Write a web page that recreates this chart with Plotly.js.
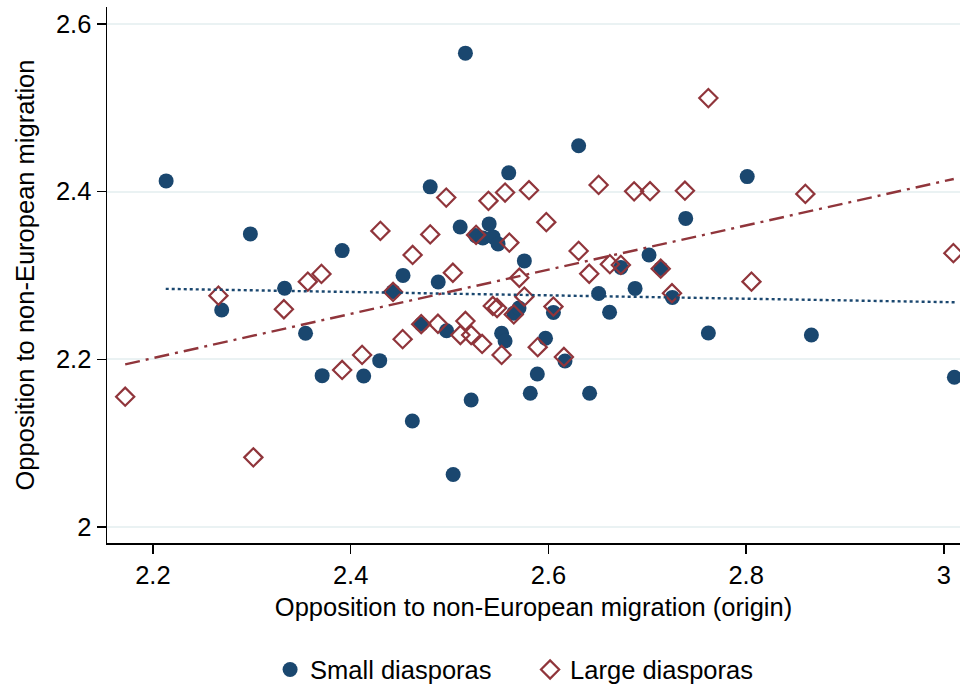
<!DOCTYPE html>
<html>
<head>
<meta charset="utf-8">
<script src="https://cdn.plot.ly/plotly-3.0.1.min.js"></script>
<style>html,body{margin:0;padding:0;background:#fff;}#chart{width:963px;height:685px;}</style>
</head>
<body>
<div id="chart"></div>
<script>
// Small diasporas
const smallX = [2.2134,2.2696,2.2986,2.3332,2.3544,2.3712,2.3914,2.4132,2.4294,2.4429,
  2.4530,2.4624,2.4714,2.4805,2.4886,2.4970,2.5037,2.5108,2.5161,2.5219,
  2.5264,2.5337,2.5401,2.5441,2.5491,2.5527,2.5562,2.5599,2.5650,2.5703,
  2.5757,2.5817,2.5888,2.5971,2.6051,2.6168,2.6306,2.6508,2.6619,2.6733,
  2.6877,2.7018,2.7137,2.7254,2.7389,2.8011,2.7618,2.8660,3.0106,2.6417];
const smallY = [2.4127,2.2588,2.3495,2.2847,2.2310,2.1805,2.3296,2.1801,2.1984,2.2807,
  2.3000,2.1264,2.2418,2.4056,2.2922,2.2341,2.0626,2.3578,2.5650,2.1515,
  2.3475,2.3447,2.3614,2.3459,2.3376,2.2310,2.2219,2.4223,2.2549,2.2612,
  2.3173,2.1595,2.1825,2.2251,2.2559,2.1980,2.4545,2.2785,2.2561,2.3095,
  2.2845,2.3244,2.3083,2.2738,2.3680,2.4178,2.2314,2.2290,2.1786,2.1595];
// Large diasporas
const largeX = [2.1720,2.2663,2.3016,2.3325,2.3567,2.3705,2.3914,2.4116,2.4301,2.4429,
  2.4526,2.4627,2.4714,2.4805,2.4883,2.4967,2.5034,2.5110,2.5161,2.5219,
  2.5269,2.5330,2.5394,2.5438,2.5481,2.5527,2.5562,2.5605,2.5650,2.5706,
  2.5757,2.5804,2.5892,2.5979,2.6051,2.6157,2.6306,2.6413,2.6508,2.6622,
  2.6733,2.6867,2.7028,2.7136,2.7250,2.7381,2.7618,2.8054,2.8599,3.0096];
const largeY = [2.1554,2.2759,2.0831,2.2597,2.2926,2.3018,2.1873,2.2052,2.3531,2.2803,
  2.2240,2.3244,2.2419,2.3489,2.2424,2.3928,2.3032,2.2290,2.2457,2.2290,
  2.3483,2.2183,2.3889,2.2636,2.2612,2.2052,2.3988,2.3391,2.2535,2.2972,
  2.2747,2.4016,2.2145,2.3635,2.2628,2.2028,2.3292,2.3020,2.4079,2.3134,
  2.3125,2.4002,2.4004,2.3080,2.2788,2.4010,2.5114,2.2926,2.3972,2.3265];
// Fitted lines (end points)
const smallFitX = [2.213, 3.011];
const smallFitY = [2.284, 2.268];
const largeFitX = [2.172, 3.010];
const largeFitY = [2.194, 2.415];

const xTicks = [2.2, 2.4, 2.6, 2.8, 3];
const xTickText = ['2.2','2.4','2.6','2.8','3'];
const yTicks = [2, 2.2, 2.4, 2.6];
const yTickText = ['2','2.2','2.4','2.6'];

const navy = '#1a476f', maroon = '#90353b';
const font = 'Arial, "Liberation Sans", sans-serif';
const fs = 25.5;

const traces = [
  {x: smallX, y: smallY, type: 'scatter', mode: 'markers', name: 'Small diasporas',
   marker: {symbol: 'circle', size: 15, color: navy, line: {width: 0}}},
  {x: largeX, y: largeY, type: 'scatter', mode: 'markers', name: 'Large diasporas',
   marker: {symbol: 'diamond-open', size: 14, color: maroon, line: {width: 2.2, color: maroon}}},
  {x: smallFitX, y: smallFitY, type: 'scatter', mode: 'lines', showlegend: false,
   line: {color: navy, width: 2.4, dash: 'dot'}, hoverinfo: 'skip'},
  {x: largeFitX, y: largeFitY, type: 'scatter', mode: 'lines', showlegend: false,
   line: {color: maroon, width: 2.4, dash: 'longdashdot'}, hoverinfo: 'skip'}
];

const layout = {
  width: 963, height: 685,
  paper_bgcolor: '#ffffff', plot_bgcolor: '#ffffff',
  margin: {l: 107, r: 3, t: 7, b: 142, autoexpand: false},
  font: {family: font, size: fs, color: '#000'},
  showlegend: true,
  legend: {orientation: 'h', xref: 'paper', x: 0.496, xanchor: 'center',
           yref: 'container', y: 0.022, yanchor: 'middle',
           entrywidth: 215, entrywidthmode: 'pixels',
           font: {family: font, size: fs, color: '#000'}, itemwidth: 30},
  xaxis: {
    range: [2.1536, 3.0163], tickvals: xTicks, ticktext: xTickText,
    showgrid: false, zeroline: false, showline: true, linecolor: '#000', linewidth: 1.5,
    ticks: 'outside', ticklen: 9, tickwidth: 1.5, tickcolor: '#000',
    tickfont: {family: font, size: fs, color: '#000'},
    title: {text: 'Opposition to non-European migration (origin)', font: {family: font, size: fs, color: '#000'}, standoff: 10},
    automargin: false
  },
  yaxis: {
    range: [1.981, 2.620], tickvals: yTicks, ticktext: yTickText,
    showgrid: true, gridcolor: '#eaf2f3', gridwidth: 2, zeroline: false,
    showline: true, linecolor: '#000', linewidth: 1.5,
    ticks: 'outside', ticklen: 9, tickwidth: 1.5, tickcolor: '#000',
    tickfont: {family: font, size: fs, color: '#000'},
    title: {text: 'Opposition to non-European migration', font: {family: font, size: fs, color: '#000'}, standoff: 14},
    automargin: false
  }
};

Plotly.newPlot('chart', traces, layout, {staticPlot: true, displayModeBar: false});
</script>
</body>
</html>
